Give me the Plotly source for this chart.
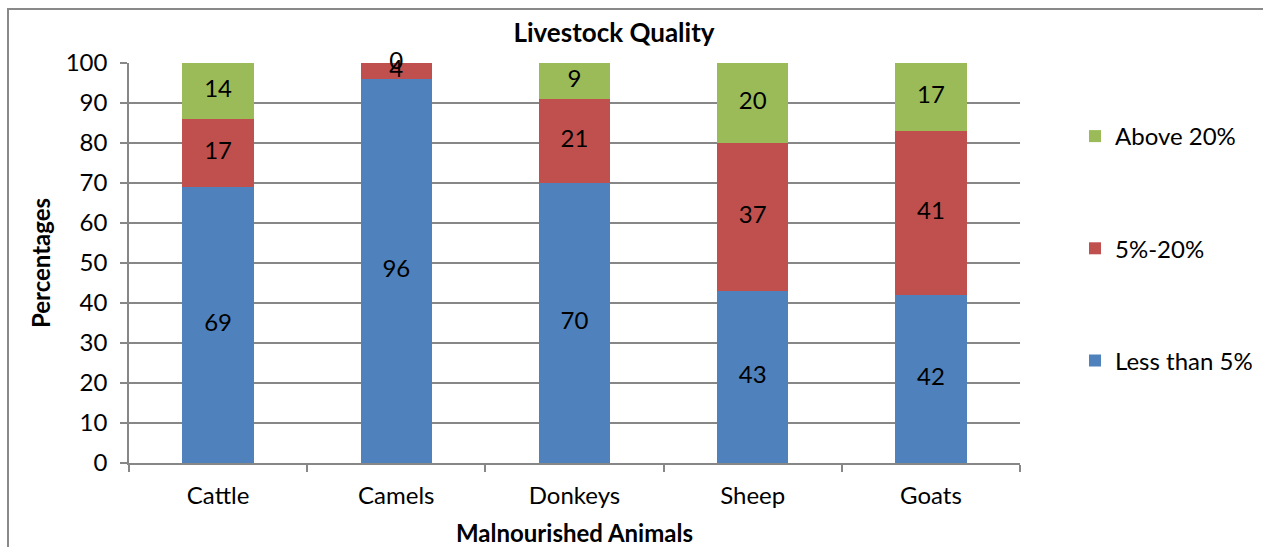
import plotly.graph_objects as go

# Livestock quality by animal type (percent of malnourished animals)
animals = ["Cattle", "Camels", "Donkeys", "Sheep", "Goats"]
less_than_5 = [69, 96, 70, 43, 42]
between_5_20 = [17, 4, 21, 37, 41]
above_20 = [14, 0, 9, 20, 17]

series = [
    ("Less than 5%", less_than_5, "#4F81BD"),
    ("5%-20%", between_5_20, "#C0504D"),
    ("Above 20%", above_20, "#9BBB59"),
]

FONT = "Lato, 'Open Sans', sans-serif"
GRID = "#878787"
FS = 24

fig = go.Figure()

base = [0] * len(animals)
label_x, label_y, label_t = [], [], []
for i, (name, vals, color) in enumerate(series):
    fig.add_trace(go.Bar(
        x=animals, y=vals, name=name, marker=dict(color=color, line=dict(width=0)),
        legendgroup=f"g{i}", legendrank=len(series) - i, hoverinfo="x+y+name",
    ))
    for a, b, v in zip(animals, base, vals):
        label_x.append(a)
        label_y.append(b + v / 2)
        label_t.append(str(v))
    base = [b + v for b, v in zip(base, vals)]

# value labels centred in each stacked segment
fig.add_trace(go.Scatter(
    x=label_x, y=label_y, text=label_t, mode="text", showlegend=False,
    textfont=dict(family=FONT, size=FS, color="#000000"), hoverinfo="skip",
    cliponaxis=False,
))

W, H = 1263, 547
L, R, T, B = 129, 243, 63, 84
pw, ph = W - L - R, H - T - B

def px_x(p):
    return (p - L) / pw

def px_y(p):
    return (H - B - p) / ph

fig.update_layout(
    width=W, height=H,
    margin=dict(l=L, r=R, t=T, b=B, autoexpand=False),
    barmode="stack", bargap=0.6,
    paper_bgcolor="white", plot_bgcolor="white",
    font=dict(family=FONT, size=FS, color="#000000"),
    title=dict(text="<b>Livestock Quality</b>", x=614 / W, xanchor="center",
               y=1 - 33 / H, yanchor="middle", font=dict(size=26)),
    legend=dict(
        x=px_x(1075), xanchor="left", y=px_y(114), yanchor="top",
        traceorder="grouped", tracegroupgap=78,
        font=dict(size=FS), itemwidth=30, bgcolor="rgba(0,0,0,0)",
    ),
    xaxis=dict(
        showline=True, linecolor=GRID, linewidth=1.5,
        ticks="outside", ticklen=7, tickcolor=GRID, tickwidth=1.5,
        tickson="boundaries", showgrid=False, ticklabelstandoff=10,
        title=dict(text="<b>Malnourished Animals</b>", standoff=18, font=dict(size=FS)),
        tickfont=dict(size=FS), automargin=False,
    ),
    yaxis=dict(
        range=[0, 100], dtick=10, showline=True, linecolor=GRID, linewidth=1.5,
        ticks="outside", ticklen=7, tickcolor=GRID, tickwidth=1.5,
        showgrid=True, gridcolor=GRID, gridwidth=1.5, zeroline=False,
        ticklabelstandoff=8, automargin=False,
        title=dict(text="<b>Percentages</b>", standoff=8, font=dict(size=FS)),
        tickfont=dict(size=FS),
    ),
    shapes=[dict(
        type="rect", xref="paper", yref="paper",
        x0=px_x(8), x1=px_x(W + 20), y0=px_y(H + 20), y1=px_y(9),
        line=dict(color="#898989", width=2), fillcolor="rgba(0,0,0,0)", layer="below",
    )],
)

fig.write_html("out.html")
